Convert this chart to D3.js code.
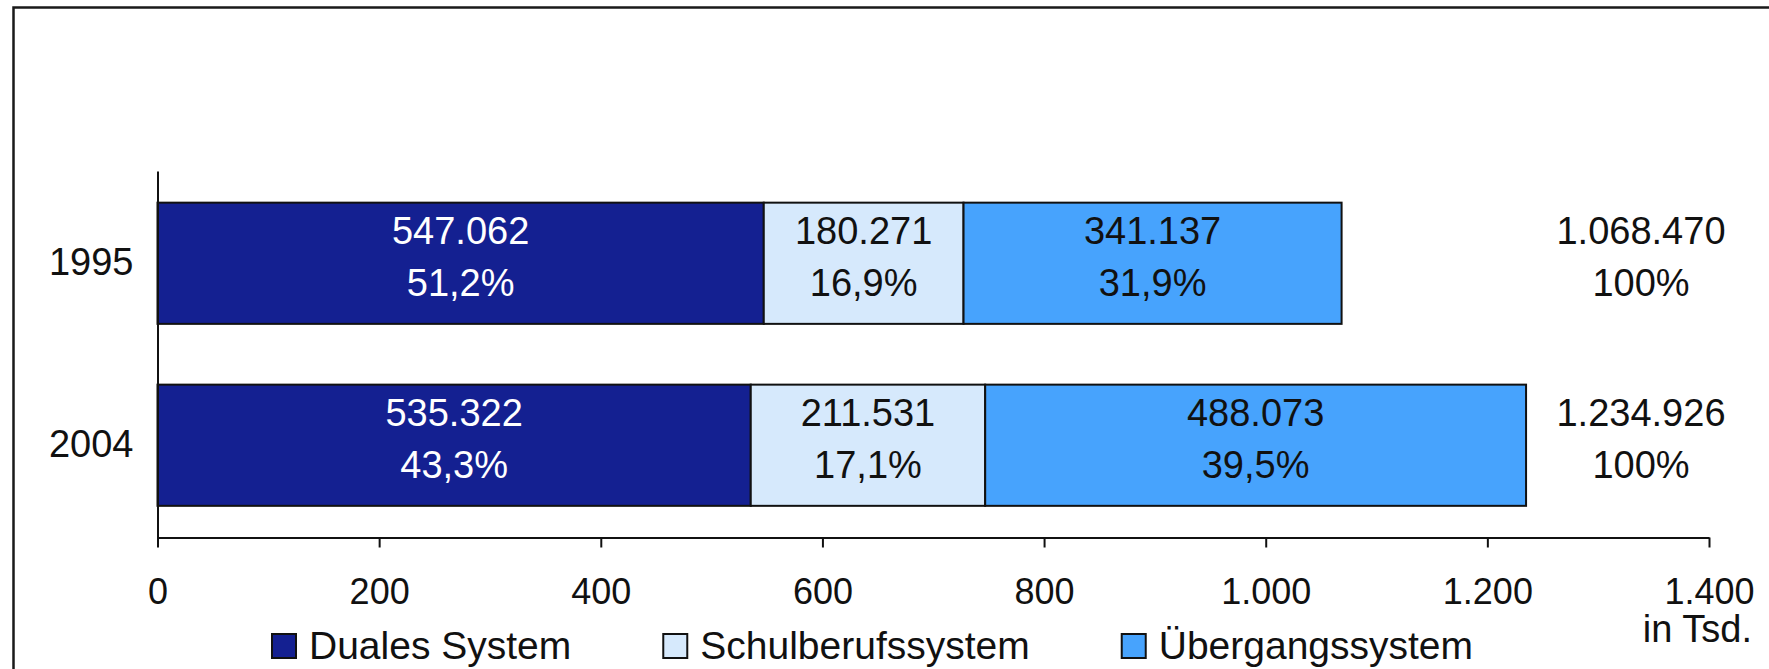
<!DOCTYPE html>
<html>
<head>
<meta charset="utf-8">
<script src="https://cdn.jsdelivr.net/npm/d3@7"></script>
<style>
  body { margin: 0; background: #fff; }
  svg { display: block; font-family: "Liberation Sans", Arial, sans-serif; }
</style>
</head>
<body>
<svg id="chart" width="1769" height="669"></svg>
<script>
// data
const years = ["1995", "2004"];
const seriesNames = ["Duales System", "Schulberufssystem", "Übergangssystem"];
const duales = [547062, 535322];
const schulberuf = [180271, 211531];
const uebergang = [341137, 488073];
const totals = [1068470, 1234926];
const sharesDuales = [51.2, 43.3];
const sharesSchul = [16.9, 17.1];
const sharesUeber = [31.9, 39.5];
const xTicks = [0, 200, 400, 600, 800, 1000, 1200, 1400];

const colors = ["#142091", "#d6e9fc", "#47a3fd"];
const textColors = ["#fff", "#111", "#111"];

const de = d3.formatLocale({ decimal: ",", thousands: ".", grouping: [3], currency: ["", " €"] });
const fmtInt = de.format(",d");
const fmtPct = v => de.format(".1f")(v) + "%";

const svg = d3.select("#chart");
const width = 1769, height = 669;

// frame (top + left edge visible)
svg.append("path")
    .attr("d", `M13.5,${height} V7.5 H${width}`)
    .attr("fill", "none")
    .attr("stroke", "#1a1a1a")
    .attr("stroke-width", 2.5);

const x = d3.scaleLinear().domain([0, 1400]).range([157.5, 1709]);
const y = d3.scaleBand().domain(years).range([171, 537.5])
    .paddingInner(0.334).paddingOuter(0.174);

const rows = years.map((yr, i) => ({
    year: yr,
    duales: duales[i] / 1000,
    schul: schulberuf[i] / 1000,
    ueber: uebergang[i] / 1000,
    vals: [duales[i], schulberuf[i], uebergang[i]],
    shares: [sharesDuales[i], sharesSchul[i], sharesUeber[i]],
    total: totals[i]
}));

const stack = d3.stack().keys(["duales", "schul", "ueber"]);
const layers = stack(rows);

const g = svg.append("g");
layers.forEach((layer, k) => {
    const seg = g.selectAll(null).data(layer).enter().append("g");
    seg.append("rect")
        .attr("x", d => x(d[0]))
        .attr("y", d => y(d.data.year))
        .attr("width", d => x(d[1]) - x(d[0]))
        .attr("height", y.bandwidth())
        .attr("fill", colors[k])
        .attr("stroke", "#111")
        .attr("stroke-width", 2);
    const txt = seg.append("text")
        .attr("text-anchor", "middle")
        .attr("fill", textColors[k])
        .attr("font-size", 38);
    txt.append("tspan")
        .attr("x", d => (x(d[0]) + x(d[1])) / 2)
        .attr("y", d => y(d.data.year) + y.bandwidth() / 2 - 19)
        .text(d => fmtInt(d.data.vals[k]));
    txt.append("tspan")
        .attr("x", d => (x(d[0]) + x(d[1])) / 2)
        .attr("y", d => y(d.data.year) + y.bandwidth() / 2 + 33)
        .text(d => fmtPct(d.data.shares[k]));
});

// totals on the right
const tot = g.selectAll(null).data(rows).enter().append("text")
    .attr("text-anchor", "middle")
    .attr("fill", "#111")
    .attr("font-size", 38);
tot.append("tspan")
    .attr("x", 1641)
    .attr("y", d => y(d.year) + y.bandwidth() / 2 - 19)
    .text(d => fmtInt(d.total));
tot.append("tspan")
    .attr("x", 1641)
    .attr("y", d => y(d.year) + y.bandwidth() / 2 + 33)
    .text("100%");

// axes
const xAxis = svg.append("g")
    .attr("transform", "translate(0,537.5)")
    .call(d3.axisBottom(x).tickValues(xTicks).tickSize(10).tickSizeOuter(0)
        .tickPadding(31).tickFormat(d => de.format(",d")(d)));
const yAxis = svg.append("g")
    .attr("transform", "translate(157.5,0)")
    .call(d3.axisLeft(y).tickSize(0).tickSizeOuter(0).tickPadding(24));

[xAxis, yAxis].forEach(a => {
    a.select(".domain").attr("stroke", "#111").attr("stroke-width", 2);
    a.selectAll(".tick line").attr("stroke", "#111").attr("stroke-width", 2);
    a.selectAll("text").attr("fill", "#111")
        .attr("font-family", "Liberation Sans, Arial, sans-serif");
});
xAxis.selectAll("text").attr("font-size", 36);
yAxis.selectAll("text").attr("font-size", 38);

svg.append("text")
    .attr("x", 1752).attr("y", 642)
    .attr("text-anchor", "end")
    .attr("font-size", 38)
    .attr("fill", "#111")
    .text("in Tsd.");

// legend
const legend = svg.append("g").attr("transform", "translate(272,0)");
let lx = 0;
seriesNames.forEach((name, k) => {
    const item = legend.append("g").attr("transform", `translate(${lx},0)`);
    item.append("rect")
        .attr("x", 0).attr("y", 634)
        .attr("width", 24).attr("height", 24)
        .attr("fill", colors[k])
        .attr("stroke", "#111").attr("stroke-width", 2);
    const t = item.append("text")
        .attr("x", 37).attr("y", 659)
        .attr("font-size", 39)
        .attr("fill", "#111")
        .text(name);
    lx += 37 + t.node().getComputedTextLength() + 92;
});
</script>
</body>
</html>
